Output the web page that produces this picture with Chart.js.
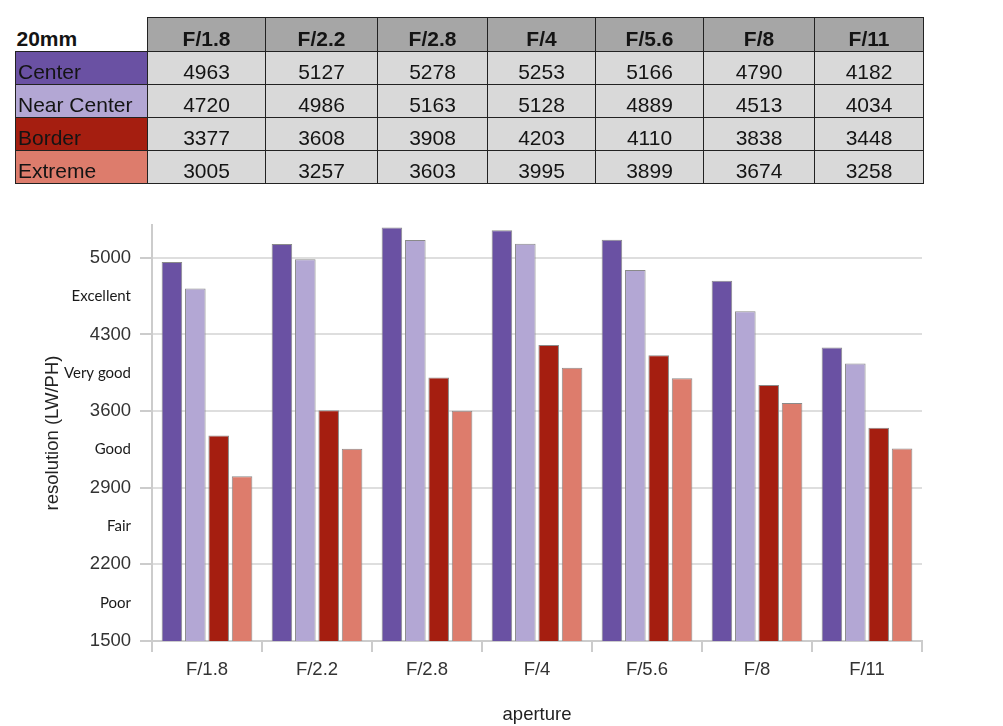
<!DOCTYPE html>
<html>
<head>
<meta charset="utf-8">
<script src="https://cdn.jsdelivr.net/npm/chart.js@4/dist/chart.umd.min.js"></script>
<style>
  html, body { margin: 0; padding: 0; background: #ffffff; }
  #wrap { position: relative; width: 1003px; height: 726px; }
  #chartBox { position: absolute; left: 0; top: 0; width: 1003px; height: 726px; }
  #tbl {
    position: absolute; left: 15px; top: 17px; z-index: 2;
    border-collapse: collapse; table-layout: fixed;
    font-family: "Liberation Sans", Arial, sans-serif; font-size: 21px; color: #141414;
  }
  #tbl th, #tbl td {
    border: 1px solid #222; padding: 0; vertical-align: bottom; line-height: normal;
    white-space: nowrap; overflow: hidden;
  }
  #tbl th { background: #a6a6a6; font-weight: bold; text-align: center; height: 33px; }
  #tbl th.corner { background: #ffffff; text-align: left; border-top: none; border-left: none; padding-left: 1px; }
  #tbl td { background: #d9d9d9; text-align: center; height: 32px; }
  #tbl td.lab { text-align: left; padding-left: 2px; }
</style>
</head>
<body>
<div id="wrap">
  <div id="chartBox"><canvas id="c"></canvas></div>
  <table id="tbl"></table>
</div>
<script>
// ---- data ----
const tableTitle = '20mm';
const categories = ['F/1.8', 'F/2.2', 'F/2.8', 'F/4', 'F/5.6', 'F/8', 'F/11'];
const seriesNames = ['Center', 'Near Center', 'Border', 'Extreme'];
const center     = [4963, 5127, 5278, 5253, 5166, 4790, 4182];
const nearCenter = [4720, 4986, 5163, 5128, 4889, 4513, 4034];
const border     = [3377, 3608, 3908, 4203, 4110, 3838, 3448];
const extreme    = [3005, 3257, 3603, 3995, 3899, 3674, 3258];
const yTickValues = [1500, 2200, 2900, 3600, 4300, 5000];
const qualityTickValues = [1850, 2550, 3250, 3950, 4650];
const qualityLabels = ['Poor', 'Fair', 'Good', 'Very good', 'Excellent'];
const yMin = 1500, yMax = 5300;
const xTitle = 'aperture';
const yTitle = 'resolution (LW/PH)';

// ---- styles ----
const colors = ['#6a51a3', '#b3a7d4', '#a51e10', '#dd7c6c'];
const colWidths = [132, 118, 112, 110, 108, 108, 111, 109];
const seriesData = [center, nearCenter, border, extreme];

// ---- table ----
const tbl = document.getElementById('tbl');
const cg = document.createElement('colgroup');
colWidths.forEach(w => { const c = document.createElement('col'); c.style.width = w + 'px'; cg.appendChild(c); });
tbl.appendChild(cg);
const hr = document.createElement('tr');
const corner = document.createElement('th'); corner.className = 'corner'; corner.textContent = tableTitle; hr.appendChild(corner);
categories.forEach(cat => { const th = document.createElement('th'); th.textContent = cat; hr.appendChild(th); });
tbl.appendChild(hr);
seriesNames.forEach((name, i) => {
  const tr = document.createElement('tr');
  const lab = document.createElement('td'); lab.className = 'lab'; lab.textContent = name; lab.style.background = colors[i];
  tr.appendChild(lab);
  seriesData[i].forEach(v => { const td = document.createElement('td'); td.textContent = v; tr.appendChild(td); });
  tbl.appendChild(tr);
});

// ---- chart ----
const isQuality = v => qualityTickValues.indexOf(v) !== -1;
const numFont = { family: '"Liberation Sans", Arial, sans-serif', size: 18.5 };
const qualFont = { family: 'Lato, sans-serif', size: 15 };

new Chart(document.getElementById('c'), {
  type: 'bar',
  data: {
    labels: categories,
    datasets: seriesNames.map((name, i) => ({
      label: name,
      data: seriesData[i],
      backgroundColor: colors[i],
      borderColor: '#8a8a8a',
      borderWidth: 1,
      borderSkipped: false,
      categoryPercentage: 0.85,
      barPercentage: 0.88
    }))
  },
  options: {
    responsive: true,
    maintainAspectRatio: false,
    animation: false,
    layout: { padding: { top: 225, right: 81, bottom: 0, left: 0 } },
    plugins: { legend: { display: false }, tooltip: { enabled: false } },
    scales: {
      x: {
        grid: { offset: true, drawOnChartArea: false, drawTicks: true, tickLength: 11, color: '#cccccc', lineWidth: 2 },
        border: { display: true, color: '#cccccc', width: 2 },
        ticks: { font: numFont, color: '#333333', padding: 7 },
        title: { display: true, text: xTitle, font: numFont, color: '#222222', padding: { top: 0, bottom: 0 } },
        afterFit: s => { s.height = 85; }
      },
      y: {
        min: yMin, max: yMax,
        afterBuildTicks: s => {
          s.ticks = yTickValues.concat(qualityTickValues).sort((a, b) => a - b).map(v => ({ value: v }));
        },
        grid: {
          drawTicks: true, tickLength: 12, lineWidth: 2,
          color: ctx => (ctx.tick && isQuality(ctx.tick.value)) ? 'rgba(0,0,0,0)' : '#dedede',
          tickColor: ctx => (ctx.tick && isQuality(ctx.tick.value)) ? 'rgba(0,0,0,0)' : '#cccccc'
        },
        border: { display: true, color: '#cccccc', width: 2 },
        ticks: {
          padding: 9,
          callback: v => isQuality(v) ? qualityLabels[qualityTickValues.indexOf(v)] : String(v),
          font: ctx => (ctx.tick && isQuality(ctx.tick.value)) ? qualFont : numFont,
          color: ctx => (ctx.tick && isQuality(ctx.tick.value)) ? '#1a1a1a' : '#333333'
        },
        title: { display: true, text: yTitle, font: numFont, color: '#222222', padding: { top: 42, bottom: 0 } },
        afterFit: s => { s.width = 152; }
      }
    }
  }
});
</script>
</body>
</html>
